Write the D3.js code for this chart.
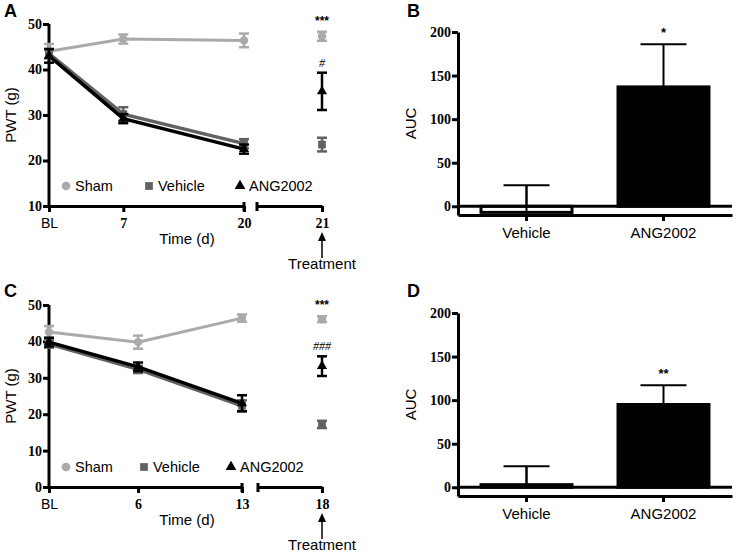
<!DOCTYPE html>
<html><head><meta charset="utf-8">
<script src="https://cdn.jsdelivr.net/npm/d3@7"></script>
<style>body{margin:0;background:#fff}svg{display:block}</style>
</head><body>
<svg id="c" width="739" height="555"></svg>
<script>
// ---------- DATA ----------
const groups = ["Sham", "Vehicle", "ANG2002"];
const colors = {Sham: "#aaaaaa", Vehicle: "#626262", ANG2002: "#000000"};

// Panel A
const aTickLabels = ["BL", "7", "20"];
const aDays = [-1, 7, 20];
const aTreatDay = 21;
const aSham = [44.0, 46.7, 46.4], aShamErr = [1.6, 1.0, 1.5];
const aVeh = [43.5, 30.2, 23.7], aVehErr = [1.0, 1.5, 1.0];
const aAng = [43.0, 29.2, 22.5], aAngErr = [1.5, 1.0, 1.0];
const aTreat = {Sham: [47.3, 1.0], Vehicle: [23.5, 1.5], ANG2002: [35.2, 4.1]};
const aYTicks = [10, 20, 30, 40, 50];

// Panel C
const cTickLabels = ["BL", "6", "13"];
const cDays = [0, 6, 13];
const cTreatDay = 18;
const cSham = [42.6, 39.8, 46.4], cShamErr = [1.6, 1.8, 1.0];
const cVeh = [39.3, 32.3, 22.3], cVehErr = [1.0, 1.0, 1.5];
const cAng = [39.8, 33.0, 23.0], cAngErr = [1.2, 1.2, 2.2];
const cTreat = {Sham: [46.1, 0.8], Vehicle: [17.2, 1.0], ANG2002: [33.2, 2.7]};
const cYTicks = [0, 10, 20, 30, 40, 50];

// Bar panels
const barCats = ["Vehicle", "ANG2002"];
const bVals = [-7, 137], bErr = [31, 49];
const dVals = [3, 95], dErr = [21, 22];
const barYTicks = [0, 50, 100, 150, 200];

const svg = d3.select("#c");
const SERIF = "'Liberation Serif','Times New Roman',serif";
const SANS = "'Liberation Sans',Arial,Helvetica,sans-serif";

function styleAxis(g){
  g.select(".domain").attr("stroke","#000").attr("stroke-width",3);
  g.selectAll(".tick line").attr("stroke","#000").attr("stroke-width",3);
  g.selectAll(".tick text").attr("fill","#000").attr("font-family",SERIF).attr("font-weight","bold").attr("font-size",14);
}

function linePanel(o){
  const g = svg.append("g");
  const y = d3.scaleLinear().domain(o.yDomain).range([o.yBottom, o.yTop]);
  const x = d3.scaleLinear().domain([o.days[0], o.days[o.days.length-1]]).range([o.x0, o.x1]);
  const x2 = d3.scaleLinear().domain([o.treatDay-1, o.treatDay]).range([o.x2a, o.x2b]);
  g.append("text").attr("x", 4).attr("y", o.letterY).text(o.letter)
    .attr("font-family",SANS).attr("font-weight","bold").attr("font-size",18);
  const ya = g.append("g").attr("transform",`translate(${o.x0},0)`)
    .call(d3.axisLeft(y).tickValues(o.yTicks).tickSize(6).tickPadding(1).tickSizeOuter(0));
  styleAxis(ya);
  ya.select(".domain").attr("d", `M0,${o.yTop}V${o.yBottom}`);
  const xa = g.append("g").attr("transform",`translate(0,${o.yBottom})`)
    .call(d3.axisBottom(x).tickValues(o.days).tickFormat((d,i)=>o.labels[i]).tickSize(6).tickPadding(6).tickSizeOuter(0));
  styleAxis(xa);
  xa.selectAll(".tick text").filter((d,i)=>o.labels[i]==="BL").attr("font-family",SANS).attr("font-weight","normal");
  const xb = g.append("g").attr("transform",`translate(0,${o.yBottom})`)
    .call(d3.axisBottom(x2).tickValues([o.treatDay]).tickFormat(d3.format("d")).tickSize(6).tickPadding(6).tickSizeOuter(0));
  styleAxis(xb);
  [o.x1, o.x2a].forEach(xx=>{
    g.append("line").attr("x1",xx).attr("x2",xx).attr("y1",o.yBottom-4).attr("y2",o.yBottom+5)
      .attr("stroke","#000").attr("stroke-width",3);
  });
  g.append("text").attr("x", 187).attr("y", o.yBottom+38).attr("text-anchor","middle")
    .attr("font-family",SANS).attr("font-size",15).text("Time (d)");
  g.append("text").attr("transform",`translate(16,${(o.yTop+o.yBottom)/2}) rotate(-90)`)
    .attr("text-anchor","middle").attr("font-family",SANS).attr("font-size",15).text("PWT (g)");
  const tx = x2(o.treatDay);
  g.append("line").attr("x1",tx).attr("x2",tx).attr("y1",o.yBottom+32).attr("y2",o.yBottom+52)
    .attr("stroke","#000").attr("stroke-width",1.5);
  g.append("path").attr("d",`M${tx},${o.yBottom+26}L${tx-4},${o.yBottom+35}L${tx+4},${o.yBottom+35}Z`).attr("fill","#000");
  g.append("text").attr("x",tx).attr("y",o.yBottom+63).attr("text-anchor","middle")
    .attr("font-family",SANS).attr("font-size",15).text("Treatment");

  const series = {Sham:[o.sham,o.shamErr], Vehicle:[o.veh,o.vehErr], ANG2002:[o.ang,o.angErr]};
  const sym = {Sham: d3.symbolCircle, Vehicle: d3.symbolSquare, ANG2002: d3.symbolTriangle};
  const symSize = {Sham: 55, Vehicle: 60, ANG2002: 45};
  const lw = {Sham: 3, Vehicle: 3.5, ANG2002: 3.5};
  groups.forEach(k=>{
    const [vals, errs] = series[k];
    const pts = vals.map((v,i)=>({x:x(o.days[i]), v, e:errs[i]}));
    const col = colors[k];
    g.append("path").datum(pts).attr("fill","none").attr("stroke",col).attr("stroke-width",lw[k])
      .attr("d", d3.line().x(d=>d.x).y(d=>y(d.v)));
    const tp = o.treat[k];
    const all = pts.concat([{x:tx, v:tp[0], e:tp[1]}]);
    all.forEach(d=>{
      const w = 5;
      const eg = g.append("g").attr("stroke",col).attr("stroke-width",2.5);
      eg.append("line").attr("x1",d.x).attr("x2",d.x).attr("y1",y(d.v-d.e)).attr("y2",y(d.v+d.e));
      eg.append("line").attr("x1",d.x-w).attr("x2",d.x+w).attr("y1",y(d.v-d.e)).attr("y2",y(d.v-d.e));
      eg.append("line").attr("x1",d.x-w).attr("x2",d.x+w).attr("y1",y(d.v+d.e)).attr("y2",y(d.v+d.e));
      g.append("path").attr("transform",`translate(${d.x},${y(d.v)})`)
        .attr("d", d3.symbol().type(sym[k]).size(symSize[k])()).attr("fill",col);
    });
  });
  g.append("text").attr("x",tx).attr("y",y(o.treat.Sham[0]+o.treat.Sham[1])-7).attr("text-anchor","middle")
    .attr("font-family",SANS).attr("font-weight","bold").attr("font-size",12).text("***");
  g.append("text").attr("x",tx).attr("y",y(o.treat.ANG2002[0]+o.treat.ANG2002[1])-6).attr("text-anchor","middle")
    .attr("font-family",SERIF).attr("font-style","italic").attr("font-size",12).text(o.hash);
  const ly = o.legendY;
  o.legendX.forEach((lx,i)=>{
    const k = groups[i];
    g.append("path").attr("transform",`translate(${lx},${ly})`)
      .attr("d", d3.symbol().type(sym[k]).size(k==="ANG2002"?50:60)()).attr("fill",colors[k]);
    g.append("text").attr("x",lx+9).attr("y",ly+5).attr("font-family",SANS).attr("font-size",14.5).text(k);
  });
}

function barPanel(o){
  const g = svg.append("g");
  const y = d3.scaleLinear().domain([-10,200]).range([o.yBottom, o.yTop]);
  const x = d3.scaleBand().domain(barCats).range([458, 732]).paddingInner(0.336).paddingOuter(0.168);
  g.append("text").attr("x", 407).attr("y", o.letterY).text(o.letter)
    .attr("font-family",SANS).attr("font-weight","bold").attr("font-size",18);
  const ya = g.append("g").attr("transform","translate(458,0)")
    .call(d3.axisLeft(y).tickValues(barYTicks).tickSize(6).tickPadding(1).tickSizeOuter(0));
  styleAxis(ya);
  const xa = g.append("g").attr("transform",`translate(0,${o.yBottom})`)
    .call(d3.axisBottom(x).tickSize(6).tickPadding(6).tickSizeOuter(0));
  styleAxis(xa);
  xa.selectAll(".tick text").attr("font-family",SANS).attr("font-weight","normal").attr("font-size",15);
  g.append("text").attr("transform",`translate(416,${(o.yTop+o.yBottom)/2}) rotate(-90)`)
    .attr("text-anchor","middle").attr("font-family",SANS).attr("font-size",15).text("AUC");
  barCats.forEach((c,i)=>{
    const v = o.vals[i], e = o.errs[i];
    const cx = x(c) + x.bandwidth()/2;
    g.append("line").attr("x1",cx).attr("x2",cx).attr("y1",y(v)).attr("y2",y(v+e)).attr("stroke","#000").attr("stroke-width",2);
    g.append("line").attr("x1",cx-23).attr("x2",cx+23).attr("y1",y(v+e)).attr("y2",y(v+e)).attr("stroke","#000").attr("stroke-width",2);
    g.append("rect").attr("x",x(c)).attr("width",x.bandwidth())
      .attr("y",y(Math.max(0,v))).attr("height",Math.abs(y(v)-y(0)))
      .attr("fill", c==="ANG2002" ? "#000" : "#fff").attr("stroke","#000").attr("stroke-width",3);
    if(c==="Vehicle"){
      g.append("line").attr("x1",cx).attr("x2",cx).attr("y1",y(Math.min(0,v))).attr("y2",y(v+e)).attr("stroke","#000").attr("stroke-width",2);
    }
  });
  g.append("line").attr("x1",458).attr("x2",732).attr("y1",y(0)).attr("y2",y(0)).attr("stroke","#000").attr("stroke-width",3);
  const ac = x("ANG2002") + x.bandwidth()/2;
  g.append("text").attr("x",ac).attr("y",y(o.vals[1]+o.errs[1])-7).attr("text-anchor","middle")
    .attr("font-family",SANS).attr("font-weight","bold").attr("font-size",13).text(o.sig);
}

linePanel({letter:"A", letterY:17, yDomain:[10,50], yTop:24, yBottom:206, x0:49, x1:244, x2a:257, x2b:322,
  days:aDays, labels:aTickLabels, treatDay:aTreatDay, yTicks:aYTicks,
  sham:aSham, shamErr:aShamErr, veh:aVeh, vehErr:aVehErr, ang:aAng, angErr:aAngErr, treat:aTreat,
  hash:"#", legendY:186, legendX:[66,149,240]});
linePanel({letter:"C", letterY:297, yDomain:[0,50], yTop:305, yBottom:487, x0:49, x1:242, x2a:258, x2b:322,
  days:cDays, labels:cTickLabels, treatDay:cTreatDay, yTicks:cYTicks,
  sham:cSham, shamErr:cShamErr, veh:cVeh, vehErr:cVehErr, ang:cAng, angErr:cAngErr, treat:cTreat,
  hash:"###", legendY:467, legendX:[66,144,231]});
barPanel({letter:"B", letterY:17, yTop:32, yBottom:215, vals:bVals, errs:bErr, sig:"*"});
barPanel({letter:"D", letterY:297, yTop:313, yBottom:496, vals:dVals, errs:dErr, sig:"**"});
</script>
</body></html>
